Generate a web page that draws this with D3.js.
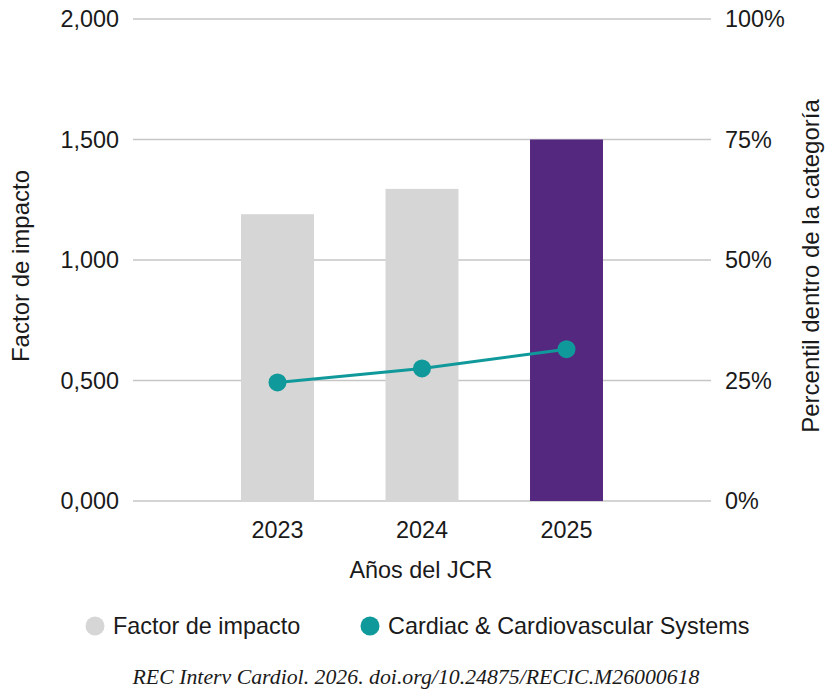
<!DOCTYPE html>
<html>
<head>
<meta charset="utf-8">
<script src="https://cdn.jsdelivr.net/npm/d3@7"></script>
<style>
  body { margin: 0; background: #fff; }
  text { font-family: "Liberation Sans", Arial, sans-serif; fill: #1a1a1a; }
</style>
</head>
<body>
<div id="chart"></div>
<script>
// data
let years = ["2023", "2024", "2025"];
let impactFactor = [1.19, 1.295, 1.5];
let percentile = [24.6, 27.5, 31.5];
let barColors = ["#d6d6d6", "#d6d6d6", "#55287f"];
let leftTicks = [0, 0.5, 1, 1.5, 2];
let rightTicks = [0, 25, 50, 75, 100];

let w = 832, h = 700;
let plotLeft = 133, plotRight = 711, plotTop = 19, plotBottom = 501;
let fs = "23.4px";

let svg = d3.select("#chart").append("svg")
    .attr("width", w)
    .attr("height", h);

let x = d3.scalePoint()
    .domain(years)
    .range([plotLeft, plotRight])
    .padding(1);
let yL = d3.scaleLinear().domain([0, 2]).range([plotBottom, plotTop]);
let yR = d3.scaleLinear().domain([0, 100]).range([plotBottom, plotTop]);

let fmtL = d => d3.format(".3f")(d).replace(".", ",");

// gridlines
svg.append("g")
    .selectAll("line")
    .data(leftTicks)
    .enter()
    .append("line")
    .attr("x1", plotLeft)
    .attr("x2", plotRight)
    .attr("y1", d => yL(d))
    .attr("y2", d => yL(d))
    .attr("stroke", "#c6c6c6")
    .attr("stroke-width", 1.5);

// bars
let bw = x.step() * 0.505;
svg.append("g")
    .selectAll("rect")
    .data(impactFactor)
    .enter()
    .append("rect")
    .attr("x", (d, i) => x(years[i]) - bw / 2)
    .attr("y", d => yL(d))
    .attr("width", bw)
    .attr("height", d => plotBottom - yL(d))
    .attr("fill", (d, i) => barColors[i]);

// left axis labels
svg.append("g")
    .selectAll("text")
    .data(leftTicks)
    .enter()
    .append("text")
    .attr("x", 119)
    .attr("y", d => yL(d))
    .attr("dy", "0.35em")
    .attr("text-anchor", "end")
    .style("font-size", fs)
    .text(fmtL);

// right axis labels
svg.append("g")
    .selectAll("text")
    .data(rightTicks)
    .enter()
    .append("text")
    .attr("x", 725)
    .attr("y", d => yR(d))
    .attr("dy", "0.35em")
    .style("font-size", fs)
    .text(d => d + "%");

// x labels
svg.append("g")
    .selectAll("text")
    .data(years)
    .enter()
    .append("text")
    .attr("x", d => x(d))
    .attr("y", 538)
    .attr("text-anchor", "middle")
    .style("font-size", fs)
    .text(d => d);

// axis titles
svg.append("text")
    .attr("x", 421)
    .attr("y", 578)
    .attr("text-anchor", "middle")
    .style("font-size", fs)
    .text("Años del JCR");
svg.append("text")
    .attr("transform", "translate(29, 266) rotate(-90)")
    .attr("text-anchor", "middle")
    .style("font-size", "24px")
    .text("Factor de impacto");
svg.append("text")
    .attr("transform", "translate(819, 266) rotate(-90)")
    .attr("text-anchor", "middle")
    .style("font-size", "24px")
    .text("Percentil dentro de la categoría");

// line series
let line = d3.line()
    .x((d, i) => x(years[i]))
    .y(d => yR(d));
svg.append("path")
    .datum(percentile)
    .attr("d", line)
    .attr("fill", "none")
    .attr("stroke", "#10999a")
    .attr("stroke-width", 3);
svg.append("g")
    .selectAll("circle")
    .data(percentile)
    .enter()
    .append("circle")
    .attr("cx", (d, i) => x(years[i]))
    .attr("cy", d => yR(d))
    .attr("r", 9)
    .attr("fill", "#10999a");

// legend
let legend = [
    {label: "Factor de impacto", color: "#d6d6d6", x: 95},
    {label: "Cardiac & Cardiovascular Systems", color: "#10999a", x: 370}
];
let lg = svg.append("g")
    .selectAll("g")
    .data(legend)
    .enter()
    .append("g")
    .attr("transform", d => `translate(${d.x}, 626)`);
lg.append("circle")
    .attr("r", 9.5)
    .attr("fill", d => d.color);
lg.append("text")
    .attr("x", 18)
    .attr("dy", "0.35em")
    .style("font-size", fs)
    .text(d => d.label);

// source line
svg.append("text")
    .attr("x", 416)
    .attr("y", 684)
    .attr("text-anchor", "middle")
    .style("font-family", "'Liberation Serif', 'Times New Roman', serif")
    .style("font-style", "italic")
    .style("font-size", "21.8px")
    .text("REC Interv Cardiol. 2026. doi.org/10.24875/RECIC.M26000618");
</script>
</body>
</html>
